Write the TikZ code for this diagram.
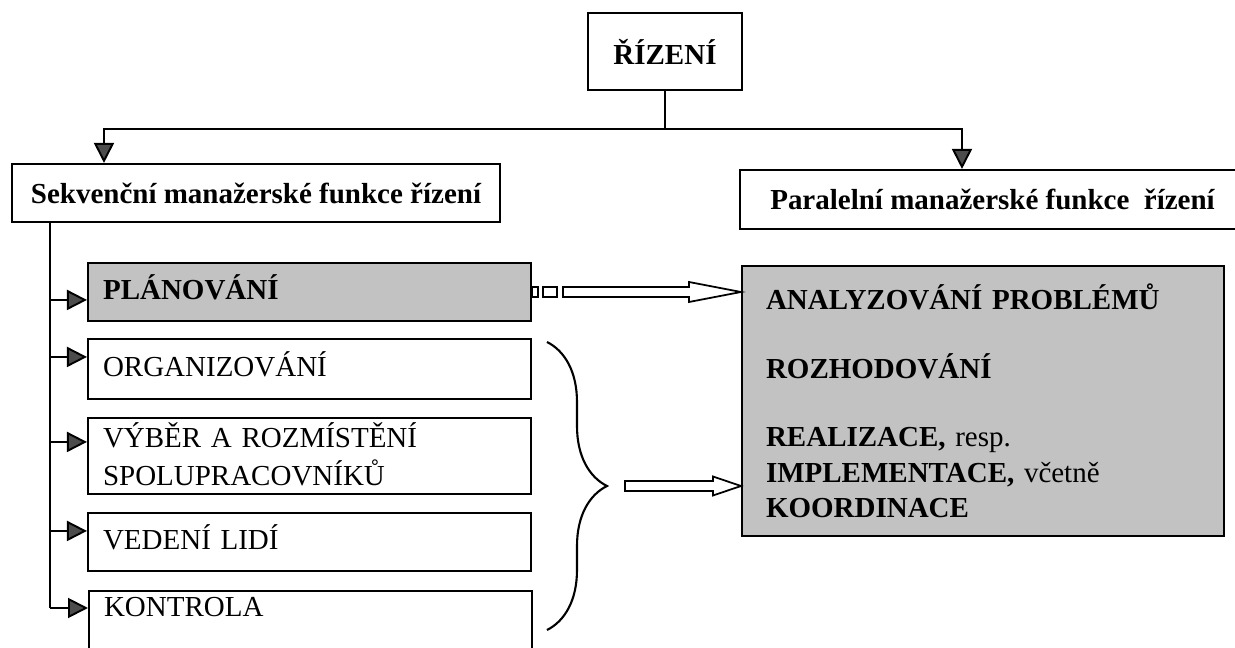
\documentclass[tikz,border=0pt]{standalone}
\usepackage{fontspec}
\setmainfont{Liberation Serif}
\usepackage{tikz}
\usetikzlibrary{arrows.meta,positioning,calc,decorations.pathreplacing}

\begin{document}
\begin{tikzpicture}[
  x=0.02cm, y=-0.02cm,
  font=\fontsize{16.5}{20.4}\selectfont,
  head/.style={draw,line width=1.2pt,align=center,font=\fontsize{16.5}{20.4}\selectfont\bfseries},
  item/.style={draw,line width=1.2pt,minimum width=88.6mm,text width=82.6mm,inner xsep=3mm,align=left,
    text height=12pt,text depth=3.5pt},
  shaded/.style={fill=black!24},
  panel/.style={draw,line width=1.2pt,fill=black!24,minimum width=96.4mm,minimum height=54mm,
    text width=86.8mm,inner xsep=4.8mm,align=left},
  link/.style={line width=1.1pt},
  arrow/.style={link,-{Triangle[length=4mm,width=4mm,fill=black!70]}},
  hollow/.style={draw,line width=1pt,fill=white},
  brace/.style={decorate,decoration={brace,amplitude=12mm},line width=1.2pt}
]
\useasboundingbox (0,0) rectangle (1235,648);

\node[head,minimum width=30.8mm,minimum height=15.4mm] (rizeni) at (665,51.5) {ŘÍZENÍ};
\node[head,minimum width=97.6mm,minimum height=11.6mm] (seq) at (256,193) {Sekvenční manažerské funkce řízení};
\node[head,minimum width=101mm,minimum height=11.8mm] (par) at (992.5,199.5) {Paralelní manažerské funkce\ \ řízení};

\node[item,shaded,minimum height=11.6mm] (plan) at (309.5,292) {\textbf{PLÁNOVÁNÍ}};
\node[item,minimum height=12mm] (org) at (309.5,369) {ORGANIZOVÁNÍ};
\node[item,minimum height=15.2mm,text depth=22pt] (vyber) at (309.5,456) {VÝBĚR A ROZMÍSTĚNÍ\\[1.6pt]SPOLUPRACOVNÍKŮ};
\node[item,minimum height=11.6mm] (vedeni) at (309.5,542) {VEDENÍ LIDÍ};
\node[item,anchor=north west,text height=11pt,text depth=25mm] (kontrola) at (88,590) {KONTROLA};

\node[panel,anchor=north west] (analyze) at (741,265) {%
  \textbf{ANALYZOVÁNÍ PROBLÉMŮ}\\[19pt]
  \textbf{ROZHODOVÁNÍ}\\[18pt]
  \textbf{REALIZACE,} resp.\\
  \textbf{IMPLEMENTACE,} včetně\\
  \textbf{KOORDINACE}};

% top split
\draw[link] (rizeni.south) -- ++(0,38) coordinate (split);
\draw[arrow] (split) -| ($(seq.north west)+(93,0)$);
\draw[arrow] (split) -| ($(par.north west)+(223,0)$);

% sequential functions
\coordinate (trunk) at ($(seq.south west)+(39,0)$);
\foreach \n/\dy in {plan/38,org/19,vyber/25,vedeni/19,kontrola/18}{
  \coordinate (t\n) at ($(\n.north west)+(0,\dy)$);
  \draw[arrow] (trunk |- t\n) -- (t\n);
}
\draw[link] (trunk) -- (trunk |- tkontrola);

% planning -> parallel functions
\coordinate (tip1) at (analyze.west |- plan.east);
\draw[link] ($(plan.east)+(0,-5)$) rectangle +(6,10);
\draw[link] ($(plan.east)+(11,-5)$) rectangle +(14,10);
\draw[hollow] ($(plan.east)+(31,-5)$) -- ($(tip1)+(-52,-5)$) -- ($(tip1)+(-52,-10)$) -- (tip1)
  -- ($(tip1)+(-52,10)$) -- ($(tip1)+(-52,5)$) -- ($(plan.east)+(31,5)$) -- cycle;

% brace -> parallel functions
\coordinate (btop) at (547,342);
\coordinate (bbot) at (547,630);
\coordinate (btip) at (607,486);
\draw[brace] (btop) -- (bbot);
\coordinate (tip2) at (analyze.west |- btip);
\draw[hollow] ($(btip)+(18,-5)$) -- ($(tip2)+(-28,-5)$) -- ($(tip2)+(-28,-9.5)$) -- (tip2)
  -- ($(tip2)+(-28,9.5)$) -- ($(tip2)+(-28,5)$) -- ($(btip)+(18,5)$) -- cycle;
\end{tikzpicture}
\end{document}
